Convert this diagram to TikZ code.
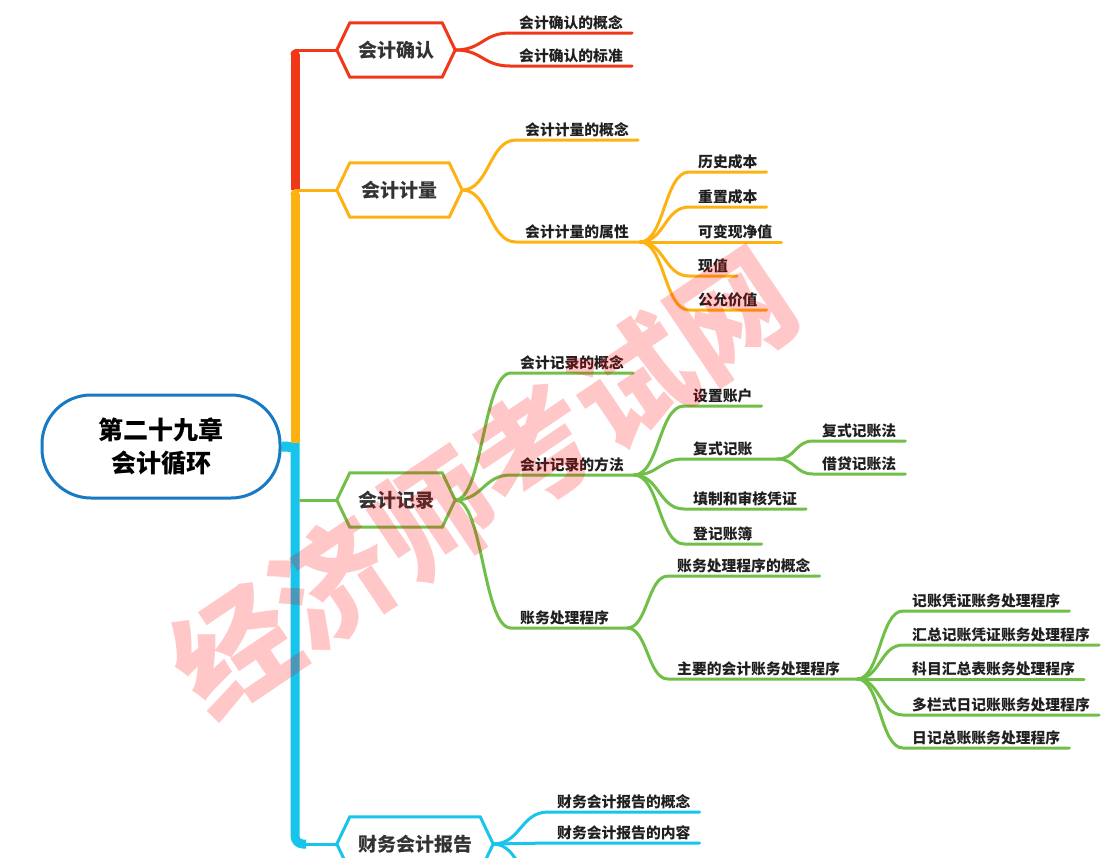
\documentclass[tikz,border=0pt]{standalone}
\usepackage{fontspec}
\newfontfamily\cjk{Noto Sans CJK SC}
\usetikzlibrary{calc}
\pgfdeclarelayer{bg}
\pgfsetlayers{bg,main}
\definecolor{cred}{RGB}{240,56,24}
\definecolor{corange}{RGB}{253,178,18}
\definecolor{cgreen}{RGB}{112,191,72}
\definecolor{ccyan}{RGB}{22,196,236}
\definecolor{cblue}{RGB}{24,122,196}
\newcommand\hexshape[2]{\draw[line width=3pt, #2, fill=white, line join=miter] (#1.west) -- ([xshift=13pt]#1.north west) -- ([xshift=-13pt]#1.north east) -- (#1.east) -- ([xshift=-13pt]#1.south east) -- ([xshift=13pt]#1.south west) -- cycle;}
\begin{document}
\begin{tikzpicture}[x=1pt,y=-1pt,
  leaf/.style={anchor=south west, inner xsep=9pt, inner ysep=3pt, font=\cjk\bfseries\fontsize{14.8}{16}\selectfont, text=black!88},
  hexnode/.style={font=\cjk\bfseries\fontsize{19}{22}\selectfont, text=black!80, minimum height=54pt, inner sep=0pt},
  rootnode/.style={draw=cblue, line width=3pt, fill=white, rounded corners=49pt, minimum width=238pt, minimum height=103pt, align=center, font=\cjk\bfseries\fontsize{25}{33}\selectfont, text=black},
  br/.style={line width=3pt, line cap=round, line join=round},
  conn/.style={to path={.. controls ($(\tikztostart)!0.5!(\tikztotarget|-\tikztostart)$) and ($(\tikztotarget)!0.5!(\tikztostart|-\tikztotarget)$) .. (\tikztotarget)}},
  wmark/.style={font=\cjk\bfseries\fontsize{120}{120}\selectfont, text=red, text opacity=0.22, rotate=34, inner sep=0pt}
]
\useasboundingbox (0,0) rectangle (1108,857);

% root
\node[rootnode] (root) at (161,446.5) {第二十九章\\会计循环};

% main topics
\node[hexnode, minimum width=118pt] (h1) at (396,50) {会计确认};
\node[hexnode, minimum width=125pt] (h2) at (399.5,190) {会计计量};
\node[hexnode, minimum width=118pt] (h3) at (396,500) {会计记录};
\node[hexnode, minimum width=156pt] (h4) at (415,844) {财务会计报告};

% trunk anchor coordinates
\coordinate (tr1) at (295,50);
\coordinate (tr2) at (295,190);
\coordinate (tr3) at (295,500);
\coordinate (tr4) at (295,844);
\coordinate (trc) at (295,447);

% leaves
\node[leaf] (a1) at (510,33) {会计确认的概念};
\node[leaf] (a2) at (510,66) {会计确认的标准};

\node[leaf] (b1) at (516,140) {会计计量的概念};
\node[leaf] (b2) at (516,242) {会计计量的属性};
\node[leaf] (b21) at (689,172) {历史成本};
\node[leaf] (b22) at (689,207) {重置成本};
\node[leaf] (b23) at (689,242) {可变现净值};
\node[leaf] (b24) at (689,276) {现值};
\node[leaf] (b25) at (689,310) {公允价值};

\node[leaf] (c1) at (511,373) {会计记录的概念};
\node[leaf] (c2) at (511,475) {会计记录的方法};
\node[leaf] (c21) at (684,406) {设置账户};
\node[leaf] (c22) at (684,459) {复式记账};
\node[leaf] (c221) at (813,441) {复式记账法};
\node[leaf] (c222) at (813,474) {借贷记账法};
\node[leaf] (c23) at (684,509) {填制和审核凭证};
\node[leaf] (c24) at (684,544) {登记账簿};
\node[leaf] (c3) at (511,628) {账务处理程序};
\node[leaf] (c31) at (668,576) {账务处理程序的概念};
\node[leaf] (c32) at (668,679) {主要的会计账务处理程序};
\node[leaf] (c321) at (903,611) {记账凭证账务处理程序};
\node[leaf] (c322) at (903,645) {汇总记账凭证账务处理程序};
\node[leaf] (c323) at (903,679) {科目汇总表账务处理程序};
\node[leaf] (c324) at (903,715) {多栏式日记账账务处理程序};
\node[leaf] (c325) at (903,748) {日记总账账务处理程序};

\node[leaf] (d1) at (548,812) {财务会计报告的概念};
\node[leaf] (d2) at (548,843) {财务会计报告的内容};
\coordinate (d3) at (548,890);

\coordinate (b2e) at ([xshift=2pt]b2.south east);
\coordinate (c2e) at ([xshift=1pt]c2.south east);
\coordinate (c22e) at ([xshift=16pt]c22.south east);
\coordinate (c3e) at ([xshift=9pt]c3.south east);
\coordinate (c32e) at ([xshift=8pt]c32.south east);

\begin{pgfonlayer}{bg}
  % trunk
  \draw[ccyan, line width=10pt] (root.east) -- (trc);
  \draw[cred, line width=9pt] (295,190) -- (295,54);
  \fill[cred] (295,54) circle (4.5pt);
  \draw[br, cred] (tr1) -- (h1.west);
  \draw[corange, line width=9pt] (295,443) -- (295,194);
  \fill[corange] (295,194) circle (4.5pt);
  \draw[br, corange] (tr2) -- (h2.west);
  \draw[ccyan, line width=9pt, rounded corners=8pt] (295,443) -- (tr4) -- (306,844);
  \draw[br, ccyan] (300,844) -- (h4.west);
  \draw[br, cgreen] (300,500) -- (h3.west);

  % red
  \draw[br, cred] (h1.east) to[conn] (a1.south west) -- (a1.south east);
  \draw[br, cred] (h1.east) to[conn] (a2.south west) -- (a2.south east);

  % orange
  \draw[br, corange] (h2.east) to[conn] (b1.south west) -- (b1.south east);
  \draw[br, corange] (h2.east) to[conn] (b2.south west) -- (b2e);
  \foreach \n in {b21,b22,b23,b24,b25}
    \draw[br, corange] (b2e) to[conn] (\n.south west) -- (\n.south east);

  % green
  \draw[br, cgreen] (h3.east) to[conn] (c1.south west) -- (c1.south east);
  \draw[br, cgreen] (h3.east) to[conn] (c2.south west) -- (c2e);
  \draw[br, cgreen] (h3.east) to[conn] (c3.south west) -- (c3e);
  \foreach \n in {c21,c23,c24}
    \draw[br, cgreen] (c2e) to[conn] (\n.south west) -- (\n.south east);
  \draw[br, cgreen] (c2e) to[conn] (c22.south west) -- (c22e);
  \foreach \n in {c221,c222}
    \draw[br, cgreen] (c22e) to[conn] (\n.south west) -- (\n.south east);
  \draw[br, cgreen] (c3e) to[conn] (c31.south west) -- (c31.south east);
  \draw[br, cgreen] (c3e) to[conn] (c32.south west) -- (c32e);
  \foreach \n in {c321,c322,c323,c324,c325}
    \draw[br, cgreen] (c32e) to[conn] (\n.south west) -- (\n.south east);

  % cyan
  \draw[br, ccyan] (h4.east) to[conn] (d1.south west) -- (d1.south east);
  \draw[br, ccyan] (h4.east) to[conn] (d2.south west) -- (d2.south east);
  \draw[br, ccyan] (h4.east) to[conn] (d3);

  % hexagons
  \hexshape{h1}{cred}
  \hexshape{h2}{corange}
  \hexshape{h3}{cgreen}
  \hexshape{h4}{ccyan}
\end{pgfonlayer}

% watermark
\node[wmark] (wm) at (483,482) {经济师考试网};
\end{tikzpicture}
\end{document}
